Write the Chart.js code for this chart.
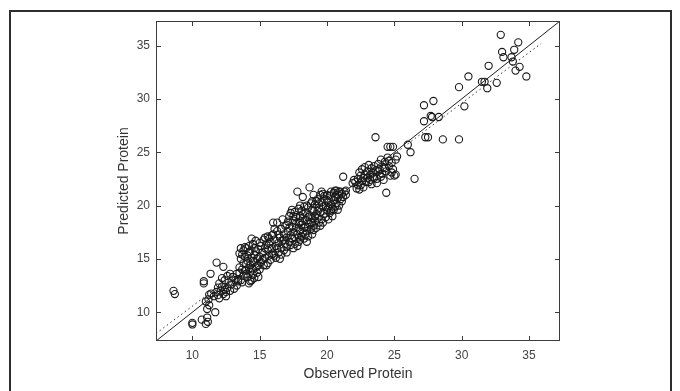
<!DOCTYPE html>
<html>
<head>
<meta charset="utf-8">
<script src="https://cdn.jsdelivr.net/npm/chart.js@4.4.1/dist/chart.umd.min.js"></script>
<style>
  html, body { margin: 0; padding: 0; background: #fff; }
  #wrap { position: relative; width: 680px; height: 391px; overflow: hidden; }
  #frame { position: absolute; left: 9px; top: 10px; width: 659px; height: 400px; border: 2px solid #2e2e2e; }
  canvas { position: absolute; left: 0; top: 0; }
</style>
</head>
<body>
<div id="wrap">
  <div id="frame"></div>
  <canvas id="proteinChart" width="680" height="391"></canvas>
</div>
<script>
// observed vs predicted protein
const observed = [
  // low outliers
  8.6, 8.7, 10.0, 10.0, 10.7, 11.1, 11.15, 11.0, 11.7, 11.1, 11.25, 11.0, 11.2, 11.25, 11.4, 10.85, 10.85, 11.35, 11.8, 12.3,
  // 11.5 - 13
  11.6, 11.8, 11.9, 12.0, 12.1, 12.2, 12.3, 12.4, 12.5, 12.6, 12.7, 12.4, 12.0, 12.8, 12.9, 13.0, 13.1, 13.2, 12.6, 12.2, 11.9, 12.5, 13.3, 12.8,
  // 13 - 15
  13.4, 13.5, 13.5, 13.6, 13.6, 13.7, 13.7, 13.8, 13.8, 13.9, 13.9, 14.0, 14.0, 14.1, 14.1, 14.2, 14.2, 14.3, 14.3, 14.3, 14.4, 14.4, 14.5, 14.5, 14.5,
  14.6, 14.6, 14.6, 14.7, 14.7, 14.8, 14.8, 14.9, 14.9, 15.0, 15.0, 13.6, 13.9, 14.0, 14.2, 13.5, 14.4, 14.7, 15.1, 15.1,
  // 15 - 17
  15.2, 15.3, 15.3, 15.4, 15.5, 15.5, 15.6, 15.6, 15.7, 15.8, 15.8, 15.9, 16.0, 16.0, 16.0, 16.1, 16.2, 16.2, 16.3, 16.3,
  16.4, 16.4, 16.5, 16.5, 16.6, 16.6, 16.7, 16.8, 16.8, 16.9, 16.9, 17.0, 17.0, 15.4, 15.7, 16.1, 15.9, 16.7,
  // 17 - 19
  17.1, 17.1, 17.2, 17.2, 17.3, 17.3, 17.4, 17.4, 17.5, 17.5, 17.6, 17.6, 17.7, 17.7, 17.8, 17.8, 17.8, 17.9, 17.9, 18.0,
  18.0, 18.0, 18.1, 18.1, 18.2, 18.2, 18.2, 18.3, 18.3, 18.4, 18.4, 18.5, 18.5, 18.5, 18.6, 18.6, 18.7, 18.7, 18.7, 18.8,
  18.8, 18.9, 18.9, 19.0, 19.0, 17.5, 17.9, 18.3, 18.6, 18.0, 17.4, 18.9,
  // 19 - 21.5
  19.1, 19.1, 19.2, 19.2, 19.3, 19.3, 19.4, 19.4, 19.5, 19.5, 19.6, 19.6, 19.7, 19.7, 19.8, 19.8, 19.9, 19.9, 20.0, 20.0,
  20.1, 20.1, 20.2, 20.2, 20.3, 20.3, 20.4, 20.4, 20.5, 20.5, 20.6, 20.6, 20.7, 20.7, 20.8, 20.9, 20.9, 21.0, 21.1, 21.2,
  21.3, 21.4, 21.2, 19.0, 19.3, 19.6, 20.8,
  // 22 - 25.5
  21.9, 22.1, 22.3, 22.4, 22.4, 22.5, 22.5, 22.6, 22.6, 22.7, 22.8, 22.8, 22.9, 23.0, 23.0, 23.1, 23.2, 23.2, 23.3, 23.4,
  23.4, 23.5, 23.6, 23.6, 23.7, 23.7, 23.8, 23.9, 23.9, 24.0, 24.1, 24.2, 24.2, 24.3, 24.4, 24.4, 24.5, 24.5, 24.6, 24.7,
  24.7, 24.8, 24.9, 24.9, 25.0, 25.1, 25.1, 25.2, 23.3, 22.2,
  // upper sparse
  26.0, 26.2, 26.5, 27.2, 27.2, 27.3, 27.5, 27.7, 27.8, 27.9, 28.3, 28.6, 29.8, 29.8, 30.2, 30.5, 31.5, 31.7, 31.9, 32.0,
  32.6, 32.9, 33.0, 33.1, 33.7, 33.8, 33.9, 34.0, 34.2, 34.3, 34.8,
  // extra circles hidden in the dense band
  13.3, 13.4, 13.7, 13.8, 14.0, 14.1, 14.2, 14.3, 14.5, 14.6, 14.8, 14.9, 15.0, 15.2, 15.4, 15.6, 15.7, 15.9, 16.1, 16.3,
  16.4, 16.6, 16.8, 17.0, 17.0, 17.2, 17.3, 17.5, 17.6, 17.7, 17.9, 18.0, 18.1, 18.2, 18.4, 18.5, 18.6, 18.8, 18.9, 19.0,
  19.1, 19.2, 19.4, 19.5, 19.7, 19.8, 20.0, 20.1, 20.3, 20.5, 20.6, 20.8, 21.0, 21.1, 21.4, 22.0, 22.3, 22.7, 23.1, 23.5,
  23.8, 24.0, 24.3, 24.6, 24.8
];
const predicted = [
  12.0, 11.7, 9.0, 8.85, 9.3, 9.5, 9.1, 8.9, 10.0, 10.3, 10.65, 11.0, 11.2, 11.65, 11.75, 12.9, 12.7, 13.6, 14.65, 14.25,
  11.5, 11.9, 11.6, 11.3, 12.0, 12.4, 11.7, 12.1, 11.5, 12.3, 12.8, 13.0, 12.7, 12.0, 12.6, 13.3, 12.2, 13.0, 13.4, 13.2, 12.3, 11.9, 12.5, 13.6,
  13.1, 13.7, 14.2, 15.0, 16.0, 15.4, 12.8, 13.4, 14.6, 16.1, 15.2, 14.0, 16.0, 13.3, 14.8, 12.7, 15.6, 13.8, 14.4, 12.9, 15.1, 16.9, 14.0, 13.5, 16.4,
  14.7, 13.2, 15.4, 14.2, 16.7, 13.7, 15.0, 14.4, 15.9, 15.2, 14.0, 13.0, 13.9, 14.5, 14.1, 15.5, 13.0, 15.7, 14.7, 16.2,
  15.6, 14.4, 16.8, 15.1, 16.3, 14.4, 15.8, 17.1, 15.3, 16.6, 14.9, 16.0, 18.4, 17.3, 15.5, 16.8, 16.2, 15.1, 18.4, 17.6,
  16.5, 15.6, 17.0, 15.0, 16.0, 17.8, 16.7, 15.8, 17.3, 16.4, 18.1, 17.0, 16.1, 16.0, 16.9, 17.8, 15.4, 18.7,
  17.6, 18.5, 16.6, 19.0, 17.2, 19.3, 18.0, 16.9, 18.6, 17.5, 19.4, 16.4, 17.9, 18.9, 16.2, 17.3, 21.3, 18.4, 19.7, 17.7,
  19.0, 16.8, 18.2, 19.5, 20.8, 17.4, 18.8, 19.9, 16.9, 18.0, 19.3, 16.6, 17.6, 18.6, 19.8, 17.1, 21.7, 18.3, 19.1, 17.8,
  20.2, 18.8, 17.3, 19.5, 18.1, 16.0, 17.0, 17.9, 18.0, 18.5, 19.6, 20.4,
  18.5, 20.1, 19.2, 17.9, 20.6, 18.8, 19.8, 18.4, 21.0, 19.4, 20.3, 18.7, 19.9, 21.1, 19.2, 20.6, 18.9, 20.0, 19.6, 21.0,
  20.3, 19.8, 19.3, 20.9, 21.3, 20.1, 19.0, 19.7, 20.5, 21.2, 19.9, 20.8, 21.4, 20.2, 20.7, 21.3, 20.0, 20.6, 21.1, 20.8,
  21.3, 21.0, 22.7, 21.0, 19.5, 21.3, 19.6,
  22.1, 22.2, 22.5, 23.1, 21.5, 21.9, 22.8, 23.4, 22.3, 21.7, 22.9, 23.6, 22.2, 23.2, 22.6, 23.8, 22.9, 22.4, 23.5, 23.1,
  22.7, 23.7, 23.3, 26.4, 22.5, 22.1, 23.9, 22.9, 23.4, 24.3, 23.0, 22.4, 23.6, 24.1, 21.2, 23.2, 25.5, 24.5, 23.7, 25.5,
  22.8, 24.0, 25.5, 23.4, 22.8, 22.9, 24.3, 24.6, 22.0, 21.6,
  25.7, 25.0, 22.5, 29.4, 27.9, 26.4, 26.4, 28.4, 28.3, 29.8, 28.3, 26.2, 26.2, 31.1, 29.3, 32.1, 31.6, 31.6, 31.0, 33.1,
  31.5, 36.0, 34.4, 33.9, 33.9, 33.5, 34.6, 32.65, 35.3, 33.0, 32.1,
  13.6, 12.9, 14.0, 15.8, 13.6, 15.3, 16.2, 15.7, 14.8, 16.0, 14.3, 13.3, 16.5, 14.9, 17.0, 14.6, 16.4, 17.2, 15.3, 16.0,
  17.3, 15.4, 16.8, 18.2, 15.6, 17.9, 16.3, 19.0, 17.0, 18.3, 16.6, 20.0, 17.1, 19.2, 17.3, 20.0, 18.9, 18.4, 19.6, 17.7,
  19.0, 20.4, 20.2, 18.1, 18.4, 20.9, 20.5, 18.7, 19.5, 19.6, 21.4, 21.0, 21.3, 20.4, 21.4, 22.4, 21.9, 22.6, 22.2, 22.6,
  23.2, 22.7, 23.5, 24.2, 23.1
];

// y = x reference line and the dotted fit line (end points)
const identityEnds = [7.3, 37.3];
const fitObserved = [7.3, 35.9];
const fitPredicted = [8.0, 35.2];

const axisMin = 7.3;
const axisMax = 37.3;
const tickValues = [10, 15, 20, 25, 30, 35];

const points = observed.map((x, i) => ({ x: x, y: predicted[i] }));
const identityLine = identityEnds.map(v => ({ x: v, y: v }));
const fitLine = fitObserved.map((x, i) => ({ x: x, y: fitPredicted[i] }));

const font = '"Liberation Sans", Arial, Helvetica, sans-serif';
const setTicks = scale => { scale.ticks = tickValues.map(v => ({ value: v })); };

// box around the axes with inward ticks on all four sides (matlab style)
const boxTicks = {
    id: 'boxTicks',
    afterDatasetsDraw(chart) {
        const { ctx, chartArea: a, scales } = chart;
        ctx.save();
        ctx.strokeStyle = '#3c3c3c';
        ctx.lineWidth = 1;
        ctx.strokeRect(a.left + 0.5, a.top + 0.5, a.right - a.left - 1, a.bottom - a.top - 1);
        ctx.beginPath();
        scales.x.ticks.forEach(t => {
            const px = Math.round(scales.x.getPixelForValue(t.value)) + 0.5;
            ctx.moveTo(px, a.bottom); ctx.lineTo(px, a.bottom - 5);
            ctx.moveTo(px, a.top); ctx.lineTo(px, a.top + 5);
        });
        scales.y.ticks.forEach(t => {
            const py = Math.round(scales.y.getPixelForValue(t.value)) + 0.5;
            ctx.moveTo(a.left, py); ctx.lineTo(a.left + 5, py);
            ctx.moveTo(a.right, py); ctx.lineTo(a.right - 5, py);
        });
        ctx.stroke();
        ctx.restore();
    }
};

new Chart(document.getElementById('proteinChart').getContext('2d'), {
    type: 'scatter',
    data: {
        datasets: [
            {
                label: 'y = x',
                data: identityLine,
                showLine: true,
                borderColor: '#1e1e1e',
                borderWidth: 1,
                pointRadius: 0,
                order: 0
            },
            {
                label: 'Fit',
                data: fitLine,
                showLine: true,
                borderColor: '#333',
                borderWidth: 1,
                borderDash: [1.5, 3],
                pointRadius: 0,
                order: 1
            },
            {
                label: 'Samples',
                data: points,
                pointStyle: 'circle',
                pointRadius: 3.6,
                pointBorderWidth: 1.1,
                pointBorderColor: '#1a1a1a',
                pointBackgroundColor: 'rgba(255,255,255,0)',
                order: 2
            }
        ]
    },
    options: {
        responsive: false,
        animation: false,
        layout: { padding: { left: 112, top: 21, right: 120, bottom: 0 } },
        plugins: { legend: { display: false }, tooltip: { enabled: false } },
        scales: {
            x: {
                type: 'linear',
                min: axisMin,
                max: axisMax,
                grid: { display: false, drawTicks: false },
                border: { display: false },
                afterBuildTicks: setTicks,
                ticks: { maxRotation: 0, padding: 7, color: '#444', font: { family: font, size: 12 } },
                title: { display: true, text: 'Observed Protein', color: '#333', font: { family: font, size: 14 }, padding: { top: 0, bottom: 8 } },
                afterFit: s => { s.height = 50; }
            },
            y: {
                type: 'linear',
                min: axisMin,
                max: axisMax,
                grid: { display: false, drawTicks: false },
                border: { display: false },
                afterBuildTicks: setTicks,
                ticks: { padding: 6, color: '#444', font: { family: font, size: 12 } },
                title: { display: true, text: 'Predicted Protein', color: '#333', font: { family: font, size: 14 }, padding: { top: 4, bottom: 0 } },
                afterFit: s => { s.width = 44; }
            }
        }
    },
    plugins: [boxTicks]
});
</script>
</body>
</html>
